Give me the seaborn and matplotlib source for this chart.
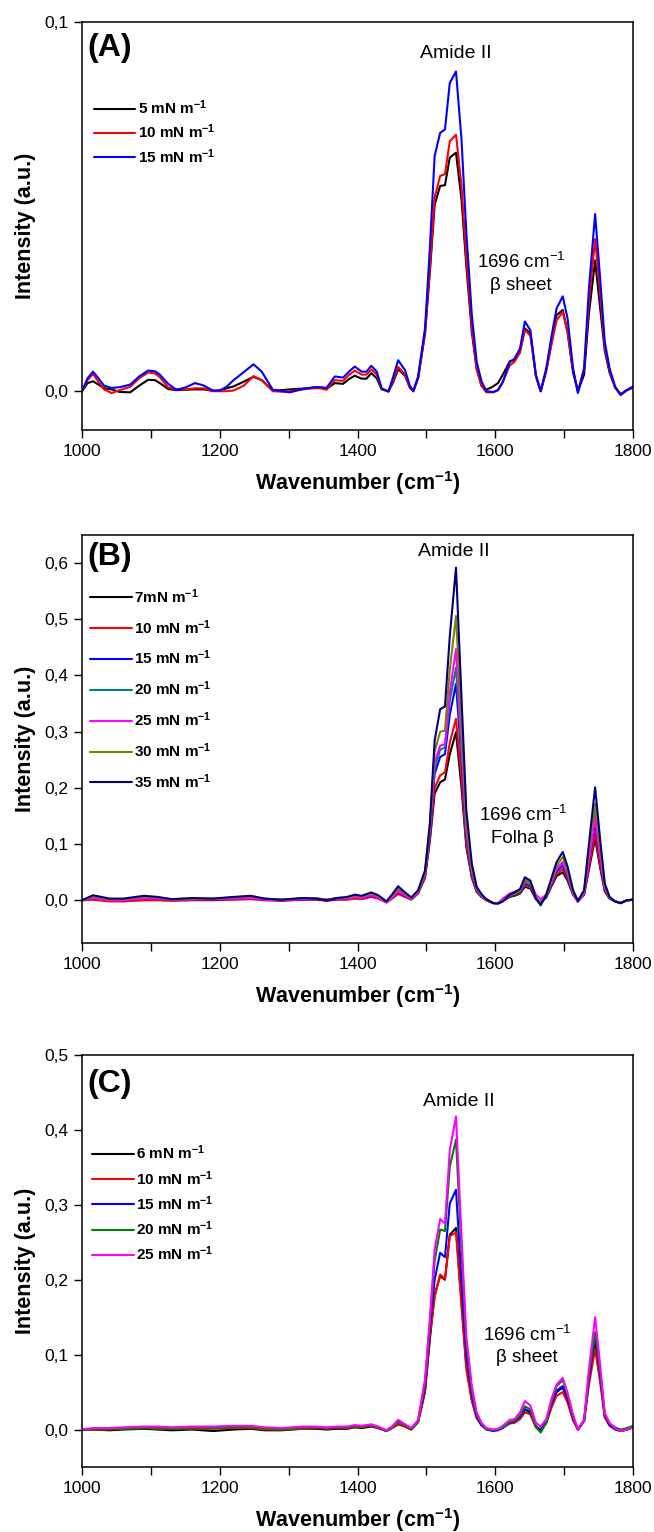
import matplotlib
matplotlib.use("Agg")
import numpy as np
import pandas as pd
import matplotlib.pyplot as plt
from matplotlib.ticker import FixedLocator, MultipleLocator, FuncFormatter
import seaborn as sns

# ---------------------------------------------------------------- data
# Panel A wavenumber grid (cm-1)
WN_A = [1000, 1008, 1016, 1024, 1032, 1043, 1055, 1070, 1083, 1096,
        1106, 1113, 1125, 1137, 1150, 1164, 1176, 1190, 1200, 1210,
        1220, 1235, 1249, 1261, 1277, 1290, 1302, 1319, 1336, 1346,
        1355, 1367, 1379, 1387, 1396, 1406, 1413, 1420, 1428, 1435,
        1445, 1452, 1459, 1469, 1476, 1481, 1488, 1498, 1505, 1512,
        1520, 1527, 1534, 1543, 1551, 1558, 1566, 1573, 1580, 1587,
        1597, 1604, 1611, 1621, 1628, 1636, 1643, 1651, 1659, 1666,
        1674, 1682, 1689, 1698, 1705, 1713, 1720, 1729, 1736, 1745,
        1752, 1759, 1766, 1774, 1782, 1791, 1800]

A_5 = [0.0000, 0.0022, 0.0027, 0.0018, 0.0008, 0.0005, -0.0002, -0.0003, 0.0015, 0.0031,
       0.0030, 0.0022, 0.0006, 0.0003, 0.0004, 0.0005, 0.0005, 0.0001, 0.0002, 0.0008,
       0.0013, 0.0026, 0.0039, 0.0030, 0.0002, 0.0003, 0.0005, 0.0007, 0.0009, 0.0010,
       0.0006, 0.0022, 0.0020, 0.0032, 0.0042, 0.0034, 0.0034, 0.0049, 0.0035, 0.0005,
       0.0000, 0.0025, 0.0060, 0.0042, 0.0010, 0.0000, 0.0035, 0.0155, 0.0320, 0.0505,
       0.0556, 0.0558, 0.0633, 0.0646, 0.0520, 0.0340, 0.0160, 0.0060, 0.0015, 0.0004,
       0.0013, 0.0022, 0.0045, 0.0080, 0.0085, 0.0110, 0.0170, 0.0157, 0.0042, 0.0000,
       0.0055, 0.0135, 0.0206, 0.0220, 0.0160, 0.0050, 0.0000, 0.0045, 0.0210, 0.0354,
       0.0230, 0.0110, 0.0050, 0.0010, -0.0008, 0.0003, 0.0010]
A_10 = [0.0000, 0.0030, 0.0047, 0.0025, 0.0005, -0.0005, 0.0003, 0.0012, 0.0035, 0.0051,
        0.0048, 0.0038, 0.0010, 0.0005, 0.0005, 0.0008, 0.0008, 0.0000, 0.0000, 0.0000,
        0.0002, 0.0015, 0.0041, 0.0030, 0.0000, -0.0001, 0.0000, 0.0005, 0.0008, 0.0008,
        0.0004, 0.0030, 0.0028, 0.0043, 0.0056, 0.0045, 0.0045, 0.0059, 0.0045, 0.0006,
        -0.0001, 0.0030, 0.0066, 0.0045, 0.0010, 0.0000, 0.0035, 0.0160, 0.0330, 0.0525,
        0.0583, 0.0588, 0.0677, 0.0695, 0.0556, 0.0360, 0.0171, 0.0060, 0.0015, -0.0003,
        -0.0003, 0.0003, 0.0025, 0.0070, 0.0080, 0.0105, 0.0166, 0.0150, 0.0040, 0.0000,
        0.0055, 0.0130, 0.0192, 0.0215, 0.0160, 0.0055, 0.0000, 0.0060, 0.0240, 0.0412,
        0.0269, 0.0120, 0.0055, 0.0010, -0.0010, 0.0003, 0.0010]
A_15 = [0.0000, 0.0035, 0.0053, 0.0035, 0.0015, 0.0009, 0.0011, 0.0018, 0.0040, 0.0056,
        0.0054, 0.0045, 0.0020, 0.0004, 0.0010, 0.0022, 0.0016, 0.0002, 0.0002, 0.0012,
        0.0030, 0.0052, 0.0073, 0.0053, 0.0004, 0.0000, -0.0003, 0.0005, 0.0011, 0.0011,
        0.0009, 0.0040, 0.0037, 0.0052, 0.0067, 0.0053, 0.0053, 0.0069, 0.0053, 0.0008,
        -0.0001, 0.0040, 0.0084, 0.0057, 0.0015, 0.0000, 0.0040, 0.0170, 0.0385, 0.0637,
        0.0700, 0.0709, 0.0835, 0.0866, 0.0682, 0.0430, 0.0206, 0.0080, 0.0027, 0.0000,
        -0.0002, 0.0003, 0.0025, 0.0080, 0.0088, 0.0116, 0.0189, 0.0165, 0.0044, 0.0000,
        0.0062, 0.0152, 0.0224, 0.0257, 0.0197, 0.0062, -0.0005, 0.0062, 0.0278, 0.0480,
        0.0313, 0.0134, 0.0062, 0.0013, -0.0010, 0.0003, 0.0013]

# Panels B and C wavenumber grid (cm-1)
WN_BC = [1000, 1016, 1040, 1060, 1090, 1110, 1130, 1160, 1190, 1220,
         1245, 1265, 1290, 1320, 1340, 1355, 1370, 1385, 1396, 1406,
         1420, 1430, 1442, 1450, 1459, 1469, 1478, 1488, 1498, 1505,
         1512, 1520, 1527, 1534, 1543, 1551, 1558, 1566, 1573, 1580,
         1587, 1597, 1604, 1611, 1621, 1628, 1636, 1643, 1651, 1659,
         1666, 1674, 1682, 1689, 1698, 1705, 1713, 1720, 1729, 1736,
         1745, 1752, 1759, 1766, 1774, 1782, 1791, 1800]

B_7 = [.000, .003, .000, .000, .002, .002, .000, .001, .001, .002,
       .003, .001, .000, .001, .002, .000, .002, .002, .004, .003,
       .007, .004, -.003, .004, .013, .007, .002, .013, .040, .105,
       .190, .210, .215, .260, .299, .200, .095, .040, .015, .006,
       .000, -.005, -.005, -.001, .006, .008, .012, .024, .021, .002,
       -.004, .005, .026, .043, .050, .035, .010, -.002, .010, .055,
       .110, .060, .016, .003, -.002, -.005, .000, .001]
B_10 = [.000, .001, -.002, -.002, .000, .000, -.001, .000, .000, .001,
        .002, .000, -.001, .001, .001, -.001, .001, .001, .003, .002,
        .006, .003, -.004, .003, .011, .006, .001, .012, .042, .110,
        .200, .222, .228, .280, .323, .215, .100, .042, .016, .006,
        .000, -.005, -.005, -.001, .007, .009, .013, .026, .023, .003,
        -.003, .006, .028, .046, .056, .039, .011, -.002, .011, .060,
        .119, .065, .018, .003, -.002, -.005, .000, .001]
B_15 = [.000, .004, .001, .000, .003, .003, .001, .002, .001, .003,
        .004, .001, .000, .002, .002, .000, .002, .003, .005, .004,
        .008, .005, -.003, .005, .015, .008, .002, .014, .045, .118,
        .225, .255, .260, .330, .385, .250, .115, .048, .018, .007,
        .001, -.005, -.005, -.001, .008, .010, .015, .030, .026, .003,
        -.004, .007, .031, .051, .062, .043, .012, -.001, .012, .070,
        .137, .076, .021, .004, -.002, -.005, .000, .001]
B_20 = [.000, .005, .001, .001, .004, .004, .001, .002, .002, .004,
        .005, .002, .001, .003, .003, .001, .003, .004, .006, .005,
        .010, .006, -.003, .006, .018, .010, .003, .015, .046, .122,
        .235, .268, .272, .355, .414, .265, .120, .050, .019, .008,
        .001, -.005, -.005, -.001, .009, .011, .016, .032, .028, .004,
        -.005, .008, .034, .055, .068, .047, .013, -.001, .014, .077,
        .154, .085, .023, .004, -.002, -.005, .000, .001]
B_25 = [.000, .004, .000, .000, .003, .003, .001, .002, .002, .003,
        .004, .001, .000, .002, .003, .001, .003, .003, .005, .004,
        .009, .005, -.004, .005, .016, .009, .002, .014, .047, .125,
        .245, .275, .278, .370, .447, .280, .128, .053, .020, .008,
        .001, -.005, -.005, .003, .012, .015, .019, .034, .033, .010,
        .002, .010, .033, .056, .067, .047, .013, -.003, .012, .072,
        .146, .080, .022, .004, -.002, -.005, .000, .001]
B_30 = [.000, .007, .002, .002, .006, .005, .002, .003, .003, .005,
        .007, .003, .001, .004, .004, .001, .004, .005, .008, .007,
        .012, .008, -.002, .008, .021, .012, .004, .016, .050, .130,
        .265, .300, .302, .410, .506, .310, .140, .058, .022, .009,
        .002, -.005, -.005, -.001, .009, .012, .018, .037, .032, .004,
        -.006, .009, .037, .061, .077, .053, .015, -.001, .016, .088,
        .172, .096, .026, .005, -.002, -.005, .000, .001]
B_35 = [.000, .009, .003, .003, .008, .006, .002, .004, .003, .006,
        .008, .003, .001, .004, .003, .000, .004, .006, .010, .008,
        .014, .009, -.002, .010, .025, .014, .005, .018, .053, .136,
        .284, .340, .345, .470, .592, .361, .160, .065, .024, .011,
        .002, -.005, -.006, -.002, .010, .014, .020, .041, .035, .003,
        -.009, .010, .041, .068, .086, .060, .018, -.001, .018, .100,
        .201, .112, .030, .006, -.002, -.005, .000, .001]

C_6 = [.000, .000, -.001, .000, .001, .000, -.001, .000, -.002, .000,
       .001, -.001, -.001, .001, .001, .000, .001, .001, .003, .002,
       .004, .002, -.002, .002, .007, .004, .000, .010, .050, .120,
       .180, .205, .200, .260, .269, .170, .085, .040, .016, .006,
       .001, -.001, .000, .003, .009, .010, .016, .027, .022, .004,
       .000, .010, .034, .050, .056, .040, .014, .000, .012, .065,
       .120, .072, .018, .006, .001, -.002, .000, .003]
C_10 = [.000, .000, .000, .001, .002, .001, .001, .001, .001, .002,
        .002, .000, .000, .001, .002, .001, .002, .002, .003, .003,
        .005, .002, -.002, .002, .008, .004, .000, .010, .052, .125,
        .177, .207, .201, .258, .263, .165, .080, .038, .015, .006,
        .001, -.001, .000, .003, .008, .009, .014, .023, .020, .003,
        .000, .008, .030, .045, .050, .036, .012, .000, .011, .060,
        .107, .065, .016, .005, .000, -.002, .000, .003]
C_15 = [.000, .001, .001, .002, .003, .003, .002, .003, .003, .004,
        .004, .002, .001, .003, .003, .002, .003, .003, .005, .004,
        .006, .003, -.001, .003, .011, .006, .001, .012, .058, .135,
        .200, .236, .230, .302, .320, .200, .100, .045, .018, .006,
        .000, -.002, -.001, .002, .009, .011, .017, .027, .024, .004,
        -.001, .010, .035, .052, .058, .042, .015, .000, .012, .068,
        .125, .075, .019, .006, .001, -.002, .000, .003]
C_20 = [.000, .000, .001, .001, .002, .002, .001, .002, .002, .003,
        .003, .001, .000, .002, .003, .002, .003, .003, .004, .004,
        .006, .003, -.002, .003, .010, .006, .001, .011, .062, .142,
        .225, .267, .265, .351, .387, .240, .115, .052, .020, .008,
        .001, -.001, .000, .003, .010, .012, .019, .031, .027, .003,
        -.004, .009, .038, .058, .066, .046, .017, .000, .012, .074,
        .130, .080, .020, .008, .003, .000, .002, .005]
C_25 = [.000, .002, .002, .003, .004, .004, .003, .004, .004, .005,
        .005, .003, .002, .004, .004, .003, .004, .004, .006, .005,
        .007, .004, -.001, .004, .013, .007, .002, .013, .067, .147,
        .240, .281, .275, .373, .418, .258, .124, .058, .023, .009,
        .002, .000, .001, .005, .013, .014, .023, .038, .032, .009,
        .004, .014, .042, .060, .069, .049, .020, .000, .013, .080,
        .150, .089, .022, .009, .002, -.002, .000, .003]

LABELS_A = ["5 mN m", "10 mN m", "15 mN m"]
LABELS_B = ["7mN m", "10 mN m", "15 mN m", "20 mN m", "25 mN m", "30 mN m", "35 mN m"]
LABELS_C = ["6 mN m", "10 mN m", "15 mN m", "20 mN m", "25 mN m"]

COLORS_A = ["#000000", "#ff0000", "#0000ff"]
COLORS_B = ["#000000", "#ff0000", "#0000ff", "#008080", "#ff00ff", "#808000", "#000080"]
COLORS_C = ["#000000", "#ff0000", "#0000ff", "#008000", "#ff00ff"]

YTICKS_A = [0.0, 0.1]
YTICKS_B = [0.0, 0.1, 0.2, 0.3, 0.4, 0.5, 0.6]
YTICKS_C = [0.0, 0.1, 0.2, 0.3, 0.4, 0.5]
XTICKS = [1000, 1200, 1400, 1600, 1800]

# ---------------------------------------------------------------- style
sns.set_style("ticks")
plt.rcParams["font.family"] = ["Liberation Sans", "DejaVu Sans"]
plt.rcParams["mathtext.fontset"] = "custom"
plt.rcParams["mathtext.rm"] = "Liberation Sans"
plt.rcParams["mathtext.bf"] = "Liberation Sans:bold"
plt.rcParams["mathtext.it"] = "Liberation Sans:italic"
plt.rcParams["axes.linewidth"] = 1.1
for key in ["text.color", "axes.labelcolor", "xtick.color", "ytick.color",
            "axes.edgecolor"]:
    plt.rcParams[key] = "black"


def long_frame(wn, labels, series):
    parts = []
    for lab, vals in zip(labels, series):
        parts.append(pd.DataFrame({"wn": wn, "intensity": vals, "series": lab}))
    return pd.concat(parts, ignore_index=True)


comma_fmt = FuncFormatter(lambda v, pos: f"{v:.1f}".replace(".", ","))

fig = plt.figure(figsize=(6.54, 15.32), dpi=100)

W, H = 654.0, 1532.0
left_px, right_px = 82, 633
panel_boxes = [(22, 430), (535, 943), (1055, 1467)]

panels = [
    dict(wn=WN_A, labels=LABELS_A, series=[A_5, A_10, A_15], colors=COLORS_A,
         ylim=(-0.0105, 0.1), yticks=YTICKS_A, letter="(A)", letter_y=0.936,
         amide=(0.679, 0.922), band=(0.797, 0.412, 0.353), band_text="\u03b2 sheet",
         leg=(0.022, 0.812, 0.36)),
    dict(wn=WN_BC, labels=LABELS_B, series=[B_7, B_10, B_15, B_20, B_25, B_30, B_35],
         colors=COLORS_B, ylim=(-0.076, 0.65), yticks=YTICKS_B, letter="(B)",
         letter_y=0.946, amide=(0.674, 0.960), band=(0.80, 0.314, 0.257),
         band_text="Folha \u03b2", leg=(0.015, 0.872, 0.80)),
    dict(wn=WN_BC, labels=LABELS_C, series=[C_6, C_10, C_15, C_20, C_25],
         colors=COLORS_C, ylim=(-0.05, 0.5), yticks=YTICKS_C, letter="(C)",
         letter_y=0.93, amide=(0.684, 0.888), band=(0.808, 0.32, 0.265),
         band_text="\u03b2 sheet", leg=(0.019, 0.785, 0.44)),
]

for (top_px, bot_px), p in zip(panel_boxes, panels):
    ax = fig.add_axes([left_px / W, 1 - bot_px / H,
                       (right_px - left_px) / W, (bot_px - top_px) / H])
    df = long_frame(p["wn"], p["labels"], p["series"])
    sns.lineplot(data=df, x="wn", y="intensity", hue="series",
                 hue_order=p["labels"], palette=p["colors"],
                 estimator=None, errorbar=None, legend=False,
                 linewidth=1.5, ax=ax)

    ax.set_xlim(1000, 1800)
    ax.set_ylim(*p["ylim"])
    ax.xaxis.set_major_locator(FixedLocator(XTICKS))
    ax.xaxis.set_minor_locator(MultipleLocator(100))
    ax.yaxis.set_major_locator(FixedLocator(p["yticks"]))
    ax.yaxis.set_major_formatter(comma_fmt)
    ax.tick_params(axis="both", which="major", direction="out", length=6,
                   width=1.0, labelsize=12.5, pad=4, top=False, right=False,
                   colors="black")
    ax.tick_params(axis="x", which="minor", direction="out", length=6,
                   width=1.0, top=False, colors="black")
    for s in ax.spines.values():
        s.set_visible(True)
        s.set_linewidth(1.1)
        s.set_color("black")

    ax.set_xlabel(r"Wavenumber (cm$^{\mathbf{-1}}$)", fontsize=15.5,
                  fontweight="bold", labelpad=7)
    ax.set_ylabel("Intensity (a.u.)", fontsize=15.5, fontweight="bold",
                  labelpad=6)

    ax.text(0.009, p["letter_y"], p["letter"], transform=ax.transAxes,
            fontsize=23, fontweight="bold", ha="left", va="center")
    ax.text(p["amide"][0], p["amide"][1], "Amide II", transform=ax.transAxes,
            fontsize=14, ha="center", va="center")
    bx, by1, by2 = p["band"]
    ax.text(bx, by1, r"1696 cm$^{\mathrm{-1}}$", transform=ax.transAxes,
            fontsize=13.5, ha="center", va="center")
    ax.text(bx, by2, p["band_text"], transform=ax.transAxes,
            fontsize=13.5, ha="center", va="center")

    lx, ly, lsp = p["leg"]
    leg_labels = [lab + r"$^{\mathbf{-1}}$" for lab in p["labels"]]
    ax.legend(ax.get_lines(), leg_labels, loc="upper left",
              bbox_to_anchor=(lx, ly), frameon=False, borderaxespad=0,
              borderpad=0, handlelength=2.7, handletextpad=0.15,
              labelspacing=lsp, prop={"weight": "bold", "size": 11})

fig.savefig("out.png", dpi=100)
